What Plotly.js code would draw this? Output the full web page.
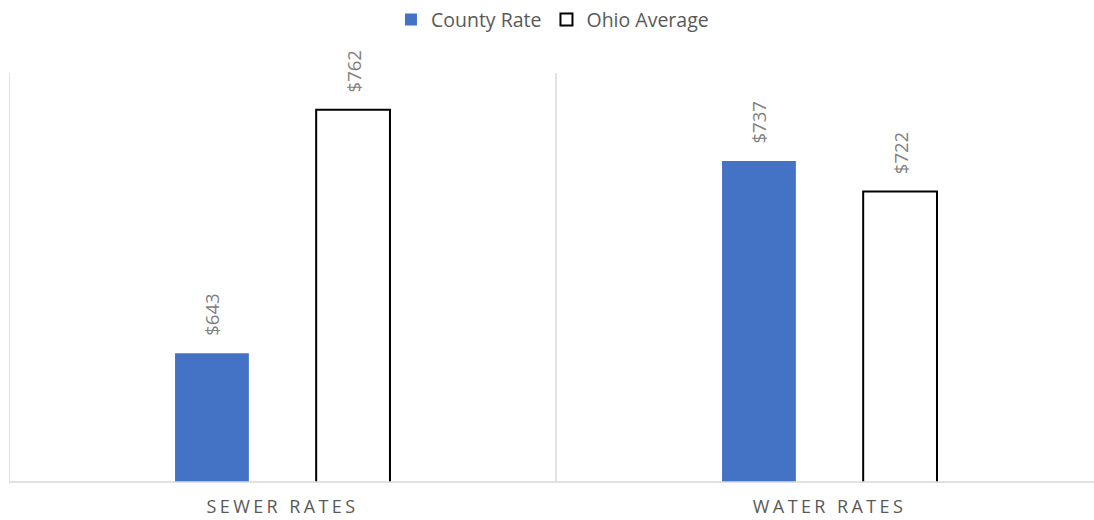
<!DOCTYPE html>
<html>
<head>
<meta charset="utf-8">
<script src="https://cdn.plot.ly/plotly-3.0.1.min.js"></script>
<style>
html,body{margin:0;padding:0;background:#fff;}
#chart{width:1094px;height:520px;}
.xtick text{letter-spacing:3.4px;}
</style>
</head>
<body>
<div id="chart"></div>
<script>
const categories = ["SEWER RATES", "WATER RATES"];
const countyRate = [643, 737];
const ohioAverage = [762, 722];
const seriesNames = ["County Rate", "Ohio Average"];

const labelFont = {family: "Open Sans, sans-serif", size: 18.5, color: "#808080"};
const pad = "\u00a0\u00a0\u00a0";

const traces = [
  {
    type: "bar", name: seriesNames[0], x: categories, y: countyRate,
    marker: {color: "#4472C4", line: {width: 0}},
    texttemplate: pad + "$%{y}", textposition: "outside", textangle: -90, constraintext: "none",
    outsidetextfont: labelFont, cliponaxis: false, hoverinfo: "none"
  },
  {
    type: "bar", name: seriesNames[1], x: categories, y: ohioAverage,
    marker: {color: "#ffffff", line: {color: "#000000", width: 2}},
    texttemplate: pad + "$%{y}", textposition: "outside", textangle: -90, constraintext: "none",
    outsidetextfont: labelFont, cliponaxis: false, hoverinfo: "none"
  }
];

const layout = {
  width: 1094, height: 520,
  margin: {l: 9, r: 0, t: 73, b: 38},
  paper_bgcolor: "#ffffff", plot_bgcolor: "#ffffff",
  font: {family: "Open Sans, sans-serif", size: 16, color: "#595959"},
  barmode: "group", bargap: 0.484, bargroupgap: 0.477,
  showlegend: true,
  legend: {orientation: "h", x: 0.505, xanchor: "center", xref: "container",
           y: 0.962, yanchor: "middle", yref: "container",
           font: {size: 19.5, color: "#595959"}, itemwidth: 30, traceorder: "normal"},
  xaxis: {
    type: "category", range: [-0.5, 1.4835], showgrid: false, zeroline: false,
    showline: false, ticks: "", tickfont: {size: 18, color: "#595959"},
    ticklabelstandoff: 12, fixedrange: true
  },
  yaxis: {
    range: [580, 780], showgrid: false, zeroline: false, showline: false,
    showticklabels: false, ticks: "", fixedrange: true
  },
  shapes: [
    {type: "line", xref: "x", yref: "paper", x0: -0.5, x1: -0.5, y0: 0, y1: 1, line: {color: "#d9d9d9", width: 1.5}, layer: "below"},
    {type: "line", xref: "x", yref: "paper", x0: 0.5, x1: 0.5, y0: 0, y1: 1, line: {color: "#d9d9d9", width: 1.5}, layer: "below"},
    {type: "line", xref: "paper", yref: "paper", x0: 0, x1: 1, y0: 0, y1: 0, line: {color: "#d9d9d9", width: 1.5}, layer: "above"}
  ]
};

Plotly.newPlot("chart", traces, layout, {displayModeBar: false, staticPlot: true});
</script>
</body>
</html>
